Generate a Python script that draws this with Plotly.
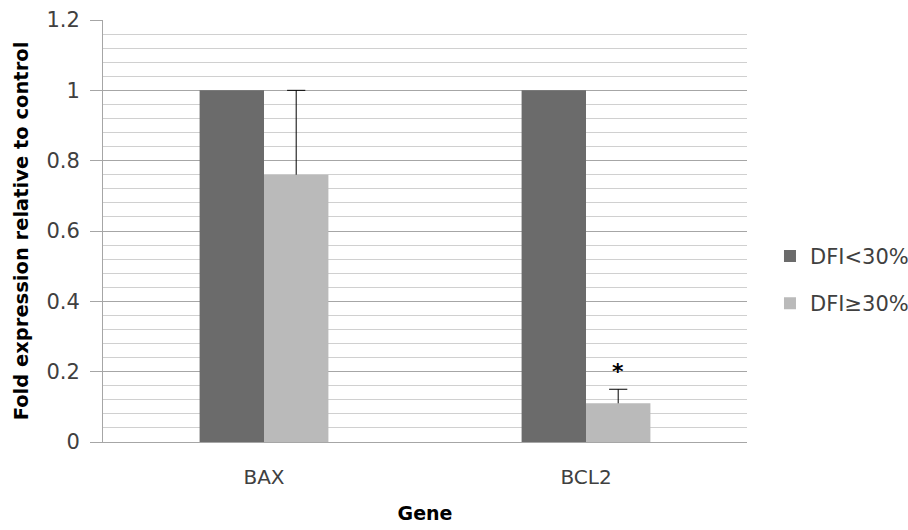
import plotly.graph_objects as go

genes = ["BAX", "BCL2"]
dfi_low = [1.0, 1.0]
dfi_high = [0.76, 0.11]
dfi_high_err = [0.24, 0.04]
series_names = ["DFI<30%", "DFI≥30%"]
y_ticks = [0, 0.2, 0.4, 0.6, 0.8, 1.0, 1.2]
signif_gene = "BCL2"

FONT = "DejaVu Sans"
BAR_W = 0.2
pos = list(range(len(genes)))
high_centers = [p + BAR_W / 2 for p in pos]
err_tops = [v + e for v, e in zip(dfi_high, dfi_high_err)]

fig = go.Figure()
fig.add_trace(go.Bar(x=pos, y=dfi_low, name=series_names[0], width=BAR_W, offset=-BAR_W,
                     marker=dict(color="#6b6b6b", line=dict(width=0)), legendgroup="a"))
fig.add_trace(go.Bar(x=pos, y=dfi_high, name=series_names[1], width=BAR_W, offset=0,
                     marker=dict(color="#bababa", line=dict(width=0)), legendgroup="b"))
# error bars: stem (no caps) + cap marker at top only
fig.add_trace(go.Scatter(x=high_centers, y=err_tops, mode="markers", showlegend=False, hoverinfo="skip",
                         marker=dict(symbol="line-ew", size=13, color="#000000",
                                     line=dict(width=1, color="#000000")),
                         error_y=dict(type="data", symmetric=False, array=[0] * len(genes),
                                      arrayminus=dfi_high_err, width=0, thickness=1, color="#000000")))

fig.add_annotation(x=high_centers[genes.index(signif_gene)], y=0.2, text="<b>*</b>", showarrow=False,
                   font=dict(size=22, color="#000000", family=FONT), yanchor="middle")

fig.update_layout(
    width=908, height=530,
    margin=dict(l=103, r=161, t=20, b=88, autoexpand=False),
    paper_bgcolor="white", plot_bgcolor="white",
    font=dict(family=FONT, size=20, color="#404040"),
    legend=dict(xref="container", yref="container", x=0.848, y=0.472, xanchor="left", yanchor="middle",
                tracegroupgap=17, font=dict(size=21, color="#404040"), itemwidth=30),
    showlegend=True,
)
fig.update_xaxes(range=[-0.5, len(genes) - 0.5], tickvals=pos, ticktext=genes, automargin=False,
                 showline=True, linecolor="#a6a6a6", linewidth=1, ticks="", showgrid=False, zeroline=False,
                 ticklabelstandoff=17,
                 title=dict(text="<b>Gene</b>", font=dict(size=19, color="#000000"), standoff=18),
                 tickfont=dict(size=20, color="#404040"))
fig.update_yaxes(range=[0, 1.2], tickvals=y_ticks, showline=True, linecolor="#a6a6a6", linewidth=1,
                 automargin=False,
                 ticks="outside", ticklen=12, tickcolor="#a6a6a6",
                 showgrid=True, gridcolor="#a6a6a6", gridwidth=1, zeroline=False,
                 minor=dict(dtick=0.04, showgrid=True, gridcolor="#d0d0d0", gridwidth=1, ticks=""),
                 ticklabelstandoff=6,
                 tickfont=dict(size=21, color="#404040"),
                 title=dict(text="<b>Fold expression relative to control</b>", font=dict(size=19.5, color="#000000"),
                            standoff=12))

fig.write_html("out.html", config={"displayModeBar": False},
               post_script="document.body.style.margin='0';")
